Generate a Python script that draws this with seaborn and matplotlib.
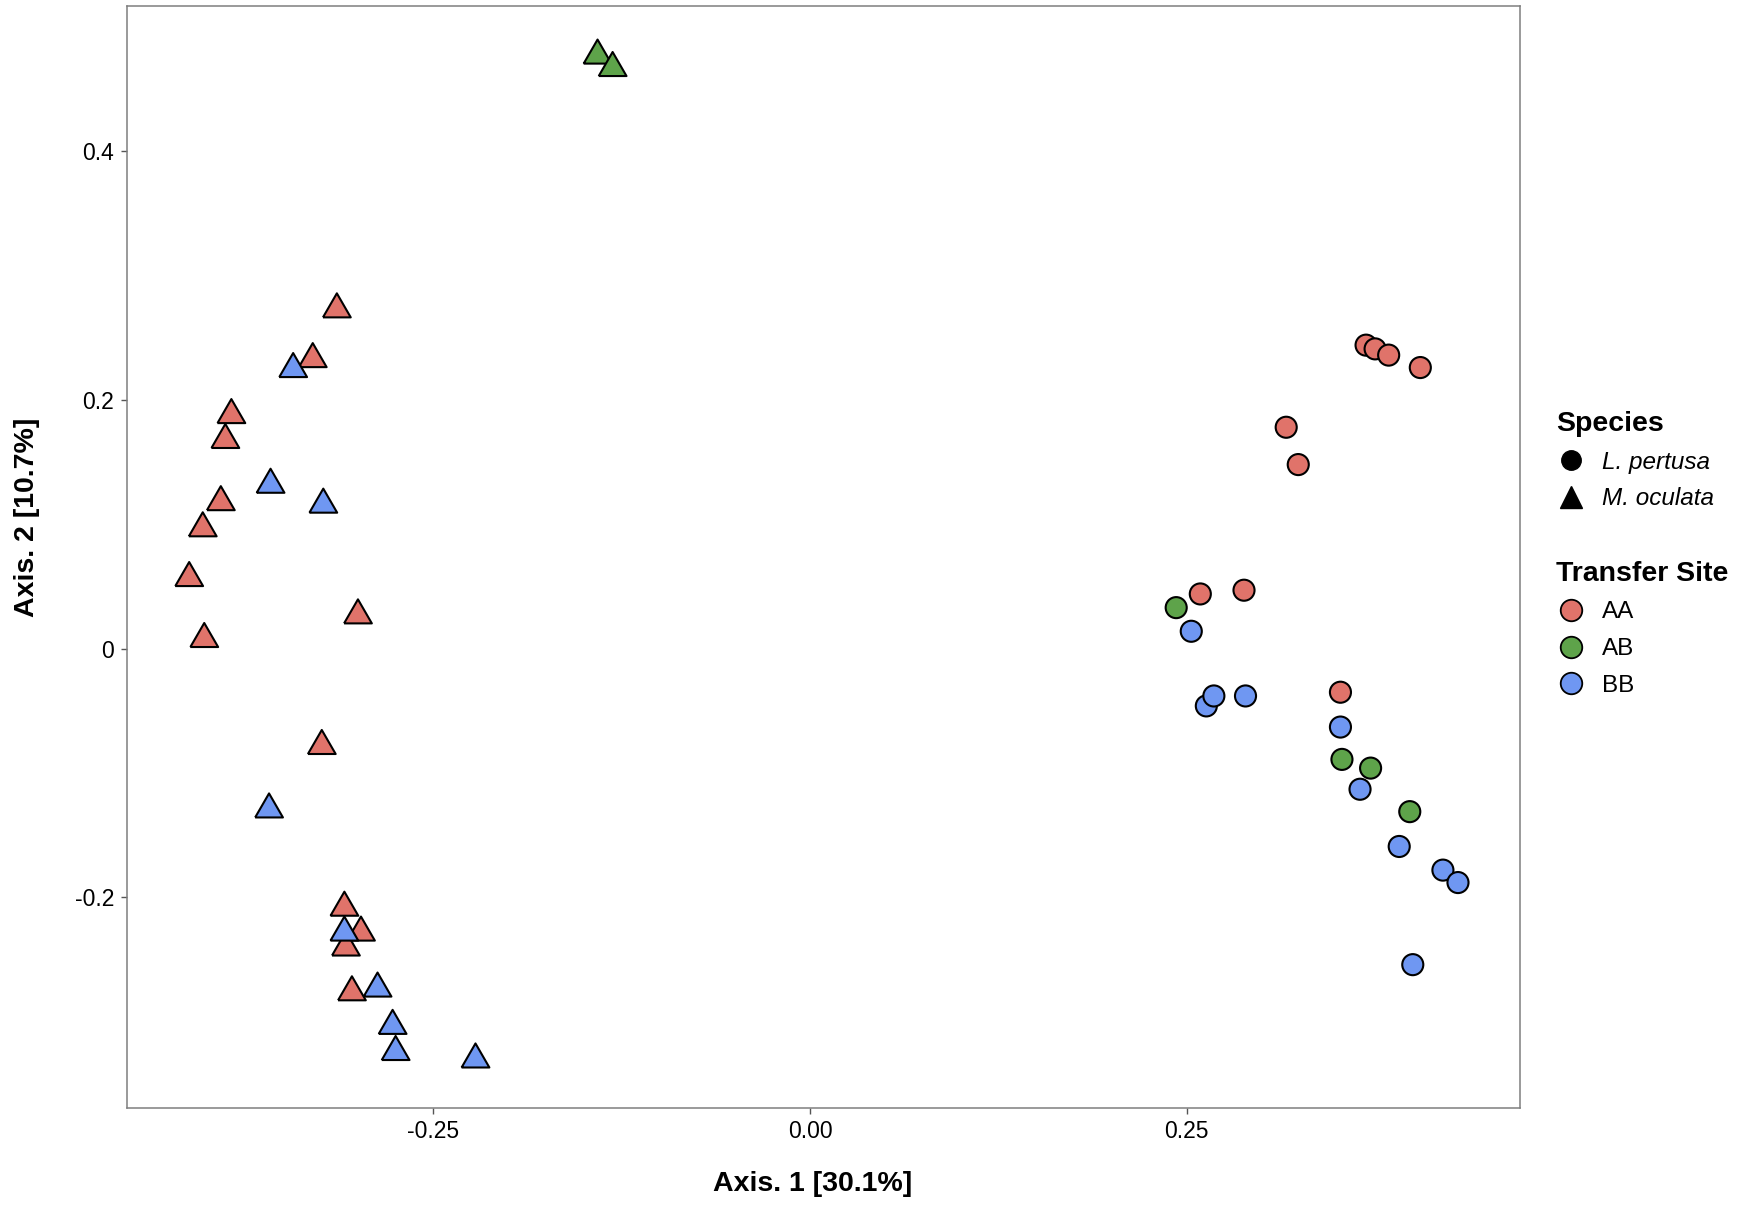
import pandas as pd
import matplotlib.pyplot as plt
import seaborn as sns
from matplotlib.lines import Line2D

# Datos de la ordenación (PCoA)
sitios = ['AA', 'AB', 'BB']
colores = {'AA': '#E0736A', 'AB': '#5EA34A', 'BB': '#6F97F2'}

# M. oculata (triángulos)
mo_sitio = ['AB', 'AB',
            'AA', 'AA', 'AA', 'AA', 'AA', 'AA', 'AA', 'AA', 'AA', 'AA', 'AA', 'AA', 'AA', 'AA',
            'BB', 'BB', 'BB', 'BB', 'BB', 'BB', 'BB', 'BB', 'BB']
mo_x = [-0.141, -0.131,
        -0.314, -0.330, -0.384, -0.388, -0.391, -0.403, -0.412, -0.402, -0.300, -0.324, -0.309, -0.298, -0.308, -0.304,
        -0.343, -0.358, -0.323, -0.359, -0.309, -0.287, -0.277, -0.275, -0.222]
mo_y = [0.480, 0.470,
        0.276, 0.236, 0.191, 0.171, 0.121, 0.100, 0.060, 0.011, 0.030, -0.075, -0.205, -0.225, -0.237, -0.273,
        0.228, 0.135, 0.119, -0.126, -0.225, -0.270, -0.300, -0.321, -0.327]

# L. pertusa (círculos)
lp_sitio = ['AA', 'AA', 'AA', 'AA', 'AA', 'AA', 'AA', 'AA', 'AA',
            'AB', 'AB', 'AB', 'AB',
            'BB', 'BB', 'BB', 'BB', 'BB', 'BB', 'BB', 'BB', 'BB', 'BB']
lp_x = [0.369, 0.375, 0.384, 0.405, 0.316, 0.324, 0.259, 0.288, 0.352,
        0.243, 0.353, 0.372, 0.398,
        0.253, 0.263, 0.268, 0.289, 0.352, 0.365, 0.391, 0.420, 0.430, 0.400]
lp_y = [0.244, 0.241, 0.236, 0.226, 0.178, 0.148, 0.044, 0.047, -0.035,
        0.033, -0.089, -0.096, -0.131,
        0.014, -0.046, -0.038, -0.038, -0.063, -0.113, -0.159, -0.178, -0.188, -0.254]

df_mo = pd.DataFrame({'x': mo_x, 'y': mo_y, 'Transfer Site': mo_sitio})
df_lp = pd.DataFrame({'x': lp_x, 'y': lp_y, 'Transfer Site': lp_sitio})

sns.set_theme(style='white')
plt.rcParams['font.family'] = ['Liberation Sans', 'DejaVu Sans']
plt.rcParams['axes.unicode_minus'] = False
plt.rcParams['text.color'] = 'black'
plt.rcParams['axes.labelcolor'] = 'black'

fig = plt.figure(figsize=(17.42, 12.06), dpi=100)
ax = fig.add_axes([0.0727, 0.0815, 0.7999, 0.9139])

# triángulo equilátero como en ggplot
triangulo = [(-1, -0.866), (1, -0.866), (0, 0.866), (-1, -0.866)]

sns.scatterplot(data=df_lp, x='x', y='y', hue='Transfer Site', palette=colores, hue_order=sitios,
                marker='o', s=230, edgecolor='black', linewidth=1.5, legend=False, ax=ax, zorder=3)
sns.scatterplot(data=df_mo, x='x', y='y', hue='Transfer Site', palette=colores, hue_order=sitios,
                marker=triangulo, s=400, edgecolor='black', linewidth=1.5, legend=False, ax=ax, zorder=3)

ax.set_xlim(-0.4535, 0.4712)
ax.set_ylim(-0.369, 0.517)
ax.set_xticks([-0.25, 0.0, 0.25])
ax.set_xticklabels(['-0.25', '0.00', '0.25'])
ax.set_yticks([-0.2, 0.0, 0.2, 0.4])
ax.set_yticklabels(['-0.2', '0', '0.2', '0.4'])
ax.tick_params(axis='both', which='major', labelsize=16.5, length=4, width=1, color='#555555',
               labelcolor='black', bottom=True, left=True, pad=5)
for lado in ax.spines.values():
    lado.set_color('#7f7f7f')
    lado.set_linewidth(1.1)

ax.set_xlabel('Axis. 1 [30.1%]', fontsize=20.5, fontweight='bold')
ax.set_ylabel('Axis. 2 [10.7%]', fontsize=20.5, fontweight='bold')
ax.xaxis.set_label_coords(0.492, -0.057)
ax.yaxis.set_label_coords(-0.062, 0.536)

# Leyendas
h_especie = [Line2D([], [], marker='o', color='black', linestyle='', markersize=14),
             Line2D([], [], marker='^', color='black', linestyle='', markersize=16)]
leg1 = fig.legend(h_especie, ['L. pertusa', 'M. oculata'], title='Species', loc='upper left',
                  bbox_to_anchor=(0.8875, 0.667), frameon=False, fontsize=17.5,
                  title_fontproperties={'weight': 'bold', 'size': 20.5},
                  handletextpad=0.65, labelspacing=0.55, borderaxespad=0, handlelength=1.25)
leg1._legend_box.align = 'left'
for t in leg1.get_texts():
    t.set_fontstyle('italic')

h_sitio = [Line2D([], [], marker='o', markerfacecolor=colores[s], markeredgecolor='black',
                  markeredgewidth=1.3, color='none', linestyle='', markersize=15.5) for s in sitios]
leg2 = fig.legend(h_sitio, sitios, title='Transfer Site', loc='upper left',
                  bbox_to_anchor=(0.8875, 0.543), frameon=False, fontsize=17.5,
                  title_fontproperties={'weight': 'bold', 'size': 20.5},
                  handletextpad=0.65, labelspacing=0.6, borderaxespad=0, handlelength=1.25)
leg2._legend_box.align = 'left'

fig.savefig('out.png', dpi=100)
